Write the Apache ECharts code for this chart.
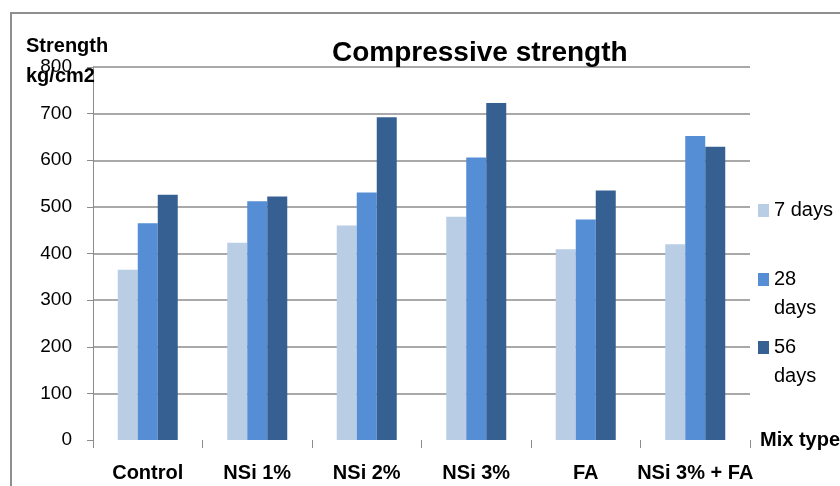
<!DOCTYPE html>
<html>
<head>
<meta charset="utf-8">
<script src="https://cdn.jsdelivr.net/npm/echarts@6/dist/echarts.min.js"></script>
<style>
html,body{margin:0;padding:0;background:#fff;}
#chart{width:840px;height:486px;}
</style>
</head>
<body>
<div id="chart"></div>
<script>
const categories = ['Control', 'NSi 1%', 'NSi 2%', 'NSi 3%', 'FA', 'NSi 3% + FA'];
const days7 = [365, 423, 460, 479, 409, 420];
const days28 = [465, 512, 531, 606, 473, 652];
const days56 = [526, 522, 692, 723, 535, 629];
const yTicks = [0, 100, 200, 300, 400, 500, 600, 700, 800];
const seriesNames = ['7 days', '28 days', '56 days'];
const colors = ['#B9CDE5', '#558ED5', '#376092'];

const FONT = '"Liberation Sans", Arial, sans-serif';
const chart = echarts.init(document.getElementById('chart'), null, {renderer: 'canvas'});

function legendFor(i, top) {
  const multi = i > 0;
  return {
    data: [seriesNames[i]],
    left: 758,
    top: top,
    orient: 'vertical',
    padding: 0,
    icon: 'rect',
    itemWidth: 11,
    itemHeight: 13,
    itemGap: 0,
    formatter: n => multi ? '\n' + n.replace(' ', '\n') : n,
    textStyle: {fontFamily: FONT, fontSize: 20, color: '#000', lineHeight: 29}
  };
}

const option = {
  animation: false,
  backgroundColor: '#fff',
  title: [
    {text: 'Compressive strength', left: 332, top: 39, padding: 0,
     textStyle: {fontFamily: FONT, fontSize: 28, fontWeight: 'bold', color: '#000'}},
    {text: 'Strength\nkg/cm2', left: 26, top: 31, padding: 0,
     textStyle: {fontFamily: FONT, fontSize: 20, fontWeight: 'bold', color: '#000', lineHeight: 30}}
  ],
  legend: [legendFor(0, 196), legendFor(1, 236), legendFor(2, 304)],
  grid: {left: 93, right: 90, top: 67, bottom: 46, containLabel: false, outerBoundsMode: 'none'},
  xAxis: {
    type: 'category',
    data: categories,
    name: 'Mix type',
    nameLocation: 'end',
    nameGap: 10,
    nameTextStyle: {fontFamily: FONT, fontSize: 20, fontWeight: 'bold', color: '#000', verticalAlign: 'middle'},
    axisLine: {show: false},
    axisTick: {show: true, length: 8, lineStyle: {color: '#8c8c8c', width: 1}},
    axisLabel: {margin: 23, fontFamily: FONT, fontSize: 20, fontWeight: 'bold', color: '#000', interval: 0}
  },
  yAxis: {
    type: 'value',
    min: 0, max: 800, interval: 100,
    axisLine: {show: true, lineStyle: {color: '#8c8c8c', width: 1}},
    axisTick: {show: true, length: 6, lineStyle: {color: '#8c8c8c'}},
    axisLabel: {margin: 21, fontFamily: FONT, fontSize: 19, color: '#000'},
    splitLine: {show: true, showMinLine: false, lineStyle: {color: '#8c8c8c', width: 1.5}}
  },
  series: seriesNames.map((n, i) => ({
    name: n,
    type: 'bar',
    data: [days7, days28, days56][i],
    barWidth: 20,
    barGap: '0%',
    itemStyle: {color: colors[i]}
  })),
  graphic: [
    {type: 'rect', shape: {x: 11, y: 13, width: 1000, height: 600},
     style: {fill: null, stroke: '#8f8f8f', lineWidth: 2}, silent: true, z: 100}
  ]
};
chart.setOption(option);
</script>
</body>
</html>
